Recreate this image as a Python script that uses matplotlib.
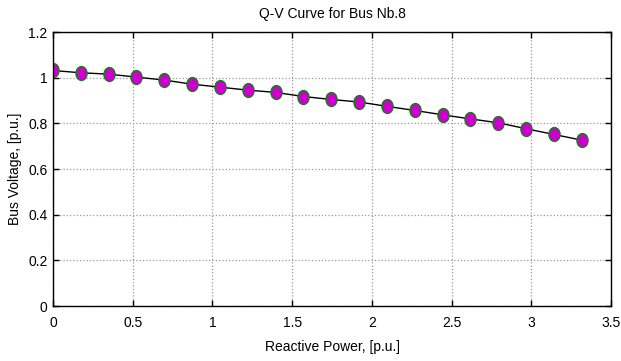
import numpy as np
import matplotlib.pyplot as plt
from matplotlib.path import Path

# Q-V curve data for bus 8
reactive_power = [0.0, 0.1745, 0.349, 0.5235, 0.698, 0.8725, 1.047, 1.2215, 1.396, 1.5705,
                  1.745, 1.9195, 2.094, 2.2685, 2.443, 2.6175, 2.792, 2.9665, 3.141, 3.3155]
bus_voltage = [1.032, 1.022, 1.016, 1.003, 0.990, 0.972, 0.959, 0.946, 0.936, 0.918,
               0.905, 0.894, 0.875, 0.857, 0.838, 0.820, 0.803, 0.777, 0.752, 0.727]
x_ticks = [0, 0.5, 1, 1.5, 2, 2.5, 3, 3.5]
y_ticks = [0, 0.2, 0.4, 0.6, 0.8, 1, 1.2]
x_tick_labels = ["0", "0.5", "1", "1.5", "2", "2.5", "3", "3.5"]
y_tick_labels = ["0", "0.2", "0.4", "0.6", "0.8", "1", "1.2"]

plt.rcParams['font.family'] = ['Liberation Sans', 'DejaVu Sans']
plt.rcParams['font.size'] = 10

# slightly tall ellipse marker, like the stretched original
circ = Path.unit_circle()
ellipse = Path(circ.vertices * np.array([0.8, 1.0]), circ.codes)

fig = plt.figure(figsize=(6.21, 3.61), dpi=100)
ax = fig.add_axes([0.0853, 0.152, 0.8987, 0.759])

ax.plot(reactive_power, bus_voltage, color='black', linewidth=1.0,
        marker=ellipse, markersize=10, markerfacecolor='#cc00cc',
        markeredgecolor='#1a7a1a', markeredgewidth=1.0)

ax.set_xlim(0, 3.5)
ax.set_ylim(0, 1.2)
ax.set_xticks(x_ticks)
ax.set_xticklabels(x_tick_labels)
ax.set_yticks(y_ticks)
ax.set_yticklabels(y_tick_labels)
ax.tick_params(direction='in', top=True, right=True, length=4, width=1)
ax.tick_params(axis='x', pad=7)
ax.tick_params(axis='y', pad=4)
ax.grid(True, color='#999999', linestyle=':', linewidth=0.9)
for s in ax.spines.values():
    s.set_linewidth(1.0)

ax.set_title('Q-V Curve for Bus Nb.8', fontsize=10, pad=10)
ax.set_xlabel('Reactive Power, [p.u.]', labelpad=7)
ax.set_ylabel('Bus Voltage, [p.u.]', labelpad=4)

fig.savefig('out.png', dpi=100)
